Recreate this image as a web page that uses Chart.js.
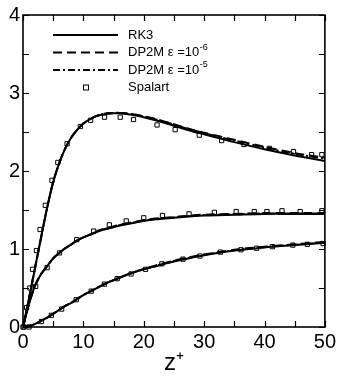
<!DOCTYPE html>
<html lang="en">
<head>
    <meta charset="UTF-8">
    <title>Velocity profiles vs z+</title>
    <script src="https://cdn.jsdelivr.net/npm/chart.js@4.4.0/dist/chart.umd.min.js"></script>
    <style>
        html, body { margin: 0; padding: 0; background: #fff; }
        #wrap { width: 339px; height: 378px; }
    </style>
</head>
<body>
    <div id="wrap"><canvas id="profileChart" width="339" height="378"></canvas></div>

    <script>
        // z+ positions for the computed curves
        const zLine = [0, 1, 2, 3, 4, 5, 6, 7, 8, 9, 10, 11, 12, 13, 14, 15, 16, 18, 20, 22, 25, 28, 30, 35, 40, 45, 50];

        // upper profile
        const upperRK3  = [0, 0.37, 0.76, 1.15, 1.53, 1.86, 2.10, 2.29, 2.43, 2.53, 2.61, 2.66, 2.70, 2.72, 2.735, 2.74, 2.74, 2.72, 2.69, 2.65, 2.58, 2.51, 2.47, 2.37, 2.28, 2.20, 2.13];
        const upperDP6  = [0, 0.37, 0.76, 1.15, 1.53, 1.86, 2.10, 2.29, 2.43, 2.53, 2.61, 2.66, 2.70, 2.725, 2.74, 2.745, 2.745, 2.73, 2.70, 2.665, 2.60, 2.53, 2.49, 2.40, 2.31, 2.23, 2.17];
        const upperDP5  = [0, 0.37, 0.76, 1.15, 1.53, 1.86, 2.10, 2.29, 2.43, 2.53, 2.61, 2.66, 2.70, 2.725, 2.74, 2.745, 2.745, 2.73, 2.70, 2.66, 2.595, 2.525, 2.485, 2.39, 2.30, 2.22, 2.16];

        // middle profile
        const middleRK3 = [0, 0.30, 0.53, 0.68, 0.78, 0.88, 0.95, 1.01, 1.06, 1.11, 1.15, 1.18, 1.21, 1.24, 1.26, 1.28, 1.30, 1.33, 1.36, 1.38, 1.40, 1.42, 1.43, 1.44, 1.45, 1.45, 1.45];
        const middleDP6 = [0, 0.30, 0.53, 0.68, 0.78, 0.88, 0.95, 1.01, 1.06, 1.11, 1.15, 1.18, 1.22, 1.25, 1.27, 1.29, 1.31, 1.34, 1.37, 1.39, 1.41, 1.43, 1.44, 1.45, 1.46, 1.46, 1.46];
        const middleDP5 = [0, 0.30, 0.53, 0.68, 0.78, 0.88, 0.95, 1.01, 1.06, 1.11, 1.15, 1.18, 1.215, 1.245, 1.265, 1.285, 1.305, 1.335, 1.365, 1.385, 1.405, 1.425, 1.435, 1.445, 1.455, 1.455, 1.455];

        // lower profile
        const lowerRK3  = [0, 0.01, 0.04, 0.08, 0.12, 0.17, 0.22, 0.27, 0.31, 0.36, 0.41, 0.45, 0.49, 0.53, 0.57, 0.60, 0.63, 0.69, 0.74, 0.78, 0.84, 0.89, 0.92, 0.98, 1.02, 1.05, 1.08];
        const lowerDP6  = [0, 0.01, 0.04, 0.08, 0.12, 0.17, 0.22, 0.27, 0.31, 0.36, 0.41, 0.45, 0.49, 0.53, 0.57, 0.60, 0.635, 0.695, 0.745, 0.79, 0.85, 0.90, 0.93, 0.99, 1.03, 1.06, 1.09];
        const lowerDP5  = [0, 0.01, 0.04, 0.08, 0.12, 0.17, 0.22, 0.27, 0.31, 0.36, 0.41, 0.45, 0.49, 0.53, 0.57, 0.60, 0.635, 0.69, 0.74, 0.785, 0.845, 0.895, 0.925, 0.985, 1.025, 1.055, 1.085];

        // Spalart reference points
        const spalartUpperZ = [0.16, 0.6, 1.14, 1.58, 2.23, 2.83, 3.7, 4.8, 5.77, 7.3, 9.5, 11.2, 13.5, 16.1, 18.3, 22.2, 25.2, 29.2, 32.9, 36.6, 40.8, 44.8, 47.8, 49.5];
        const spalartUpperV = [0.0, 0.25, 0.50, 0.74, 0.98, 1.25, 1.56, 1.88, 2.11, 2.35, 2.57, 2.65, 2.69, 2.69, 2.66, 2.59, 2.53, 2.46, 2.39, 2.34, 2.29, 2.25, 2.21, 2.21];
        const spalartMiddleZ = [2.1, 4.0, 6.05, 8.9, 11.7, 14.3, 17.1, 20.0, 23.1, 27.5, 31.7, 35.3, 38.3, 40.4, 42.9, 45.9, 49.5];
        const spalartMiddleV = [0.52, 0.76, 0.95, 1.12, 1.23, 1.31, 1.36, 1.40, 1.43, 1.45, 1.47, 1.48, 1.48, 1.48, 1.49, 1.48, 1.49];
        const spalartLowerZ = [0, 1.0, 3.05, 4.7, 6.4, 8.8, 11.3, 13.5, 15.6, 17.9, 20.3, 23.0, 26.5, 29.3, 32.7, 36.1, 38.7, 41.3, 44.7, 47.1, 49.7];
        const spalartLowerV = [0, 0.0, 0.07, 0.15, 0.23, 0.35, 0.46, 0.55, 0.62, 0.68, 0.74, 0.81, 0.87, 0.91, 0.96, 0.99, 1.01, 1.03, 1.05, 1.06, 1.07];

        const legendLabels = ['RK3', 'DP2M \u03b5 =10', 'DP2M \u03b5 =10', 'Spalart'];
        const legendExponents = ['', '-6', '-5', ''];

        const xTickLabels = [0, 10, 20, 30, 40, 50];
        const yTickLabels = [0, 1, 2, 3, 4];

        const solid = [];
        const dashed = [9, 5];
        const dashDot = [7, 3, 2, 3];

        function toPoints(xs, ys) {
            return xs.map((x, i) => ({ x: x, y: ys[i] }));
        }

        function lineSet(label, ys, dash) {
            return {
                label: label,
                data: toPoints(zLine, ys),
                showLine: true,
                borderColor: '#000',
                borderWidth: 2,
                borderDash: dash,
                pointRadius: 0,
                tension: 0.3,
                fill: false
            };
        }

        function markerSet(xs, ys) {
            return {
                label: 'Spalart',
                data: toPoints(xs, ys),
                showLine: false,
                pointStyle: 'rect',
                pointRadius: 3,
                pointBorderWidth: 1,
                borderColor: '#000',
                backgroundColor: 'rgba(255,255,255,0)',
                clip: false
            };
        }

        // inward ticks on all four sides, frame, and the in-plot legend
        const framePlugin = {
            id: 'framePlugin',
            afterDatasetsDraw(chart) {
                const { ctx, chartArea: a, scales } = chart;
                const xs = scales.x, ys = scales.y;
                ctx.save();
                ctx.strokeStyle = '#000';
                ctx.lineWidth = 1.2;
                ctx.beginPath();
                xs.ticks.forEach(t => {
                    const px = Math.round(xs.getPixelForValue(t.value)) + 0.5;
                    ctx.moveTo(px, a.bottom); ctx.lineTo(px, a.bottom - 6);
                    ctx.moveTo(px, a.top); ctx.lineTo(px, a.top + 6);
                });
                ys.ticks.forEach(t => {
                    const py = Math.round(ys.getPixelForValue(t.value)) + 0.5;
                    ctx.moveTo(a.left, py); ctx.lineTo(a.left + 6, py);
                    ctx.moveTo(a.right, py); ctx.lineTo(a.right - 6, py);
                });
                ctx.stroke();
                ctx.lineWidth = 1.6;
                ctx.strokeRect(a.left, a.top, a.right - a.left, a.bottom - a.top);

                // legend
                const dashes = [solid, dashed, dashDot];
                const x0 = a.left + 30, x1 = a.left + 95, tx = a.left + 105;
                ctx.fillStyle = '#000';
                ctx.textBaseline = 'middle';
                legendLabels.forEach((lab, i) => {
                    const y = a.top + 20 + i * 17.5;
                    if (i < 3) {
                        ctx.setLineDash(dashes[i]);
                        ctx.lineWidth = 2;
                        ctx.beginPath();
                        ctx.moveTo(x0, y); ctx.lineTo(x1, y);
                        ctx.stroke();
                        ctx.setLineDash([]);
                    } else {
                        ctx.lineWidth = 1;
                        ctx.strokeRect(x0 + 30.5, y - 2.5, 5, 5);
                    }
                    ctx.font = '13px "Liberation Sans", Arial, sans-serif';
                    ctx.fillText(lab, tx, y);
                    if (legendExponents[i]) {
                        const w = ctx.measureText(lab).width;
                        ctx.font = '9px "Liberation Sans", Arial, sans-serif';
                        ctx.fillText(legendExponents[i], tx + w + 0.5, y - 5);
                    }
                });
                ctx.restore();
            }
        };

        const ctx = document.getElementById('profileChart').getContext('2d');
        new Chart(ctx, {
            type: 'scatter',
            data: {
                datasets: [
                    lineSet('RK3', upperRK3, solid),
                    lineSet('DP2M 1e-6', upperDP6, dashed),
                    lineSet('DP2M 1e-5', upperDP5, dashDot),
                    lineSet('RK3', middleRK3, solid),
                    lineSet('DP2M 1e-6', middleDP6, dashed),
                    lineSet('DP2M 1e-5', middleDP5, dashDot),
                    lineSet('RK3', lowerRK3, solid),
                    lineSet('DP2M 1e-6', lowerDP6, dashed),
                    lineSet('DP2M 1e-5', lowerDP5, dashDot),
                    markerSet(spalartUpperZ, spalartUpperV),
                    markerSet(spalartMiddleZ, spalartMiddleV),
                    markerSet(spalartLowerZ, spalartLowerV)
                ]
            },
            options: {
                responsive: false,
                animation: false,
                layout: { autoPadding: false, padding: { top: 15, right: 10, left: 0, bottom: 0 } },
                plugins: { legend: { display: false }, tooltip: { enabled: false } },
                scales: {
                    x: {
                        type: 'linear',
                        min: 0, max: 50,
                        grid: { display: false, drawTicks: false },
                        border: { display: false },
                        ticks: {
                            stepSize: 5,
                            padding: 3,
                            color: '#000',
                            maxRotation: 0,
                            autoSkip: false,
                            font: { family: '"Liberation Sans", Arial, sans-serif', size: 20 },
                            callback: v => xTickLabels.includes(v) ? String(v) : ''
                        },
                        title: {
                            display: true,
                            text: 'z\u207a',
                            color: '#000',
                            padding: { top: 0, bottom: 0 },
                            font: { family: '"Liberation Sans", Arial, sans-serif', size: 24 }
                        },
                        afterFit: s => { s.height = 51; }
                    },
                    y: {
                        type: 'linear',
                        min: 0, max: 4,
                        grid: { display: false, drawTicks: false },
                        border: { display: false },
                        ticks: {
                            stepSize: 0.5,
                            padding: 3,
                            color: '#000',
                            autoSkip: false,
                            font: { family: '"Liberation Sans", Arial, sans-serif', size: 20 },
                            callback: v => yTickLabels.includes(v) ? String(v) : ''
                        },
                        afterFit: s => { s.width = 23; }
                    }
                }
            },
            plugins: [framePlugin]
        });
    </script>
</body>
</html>
